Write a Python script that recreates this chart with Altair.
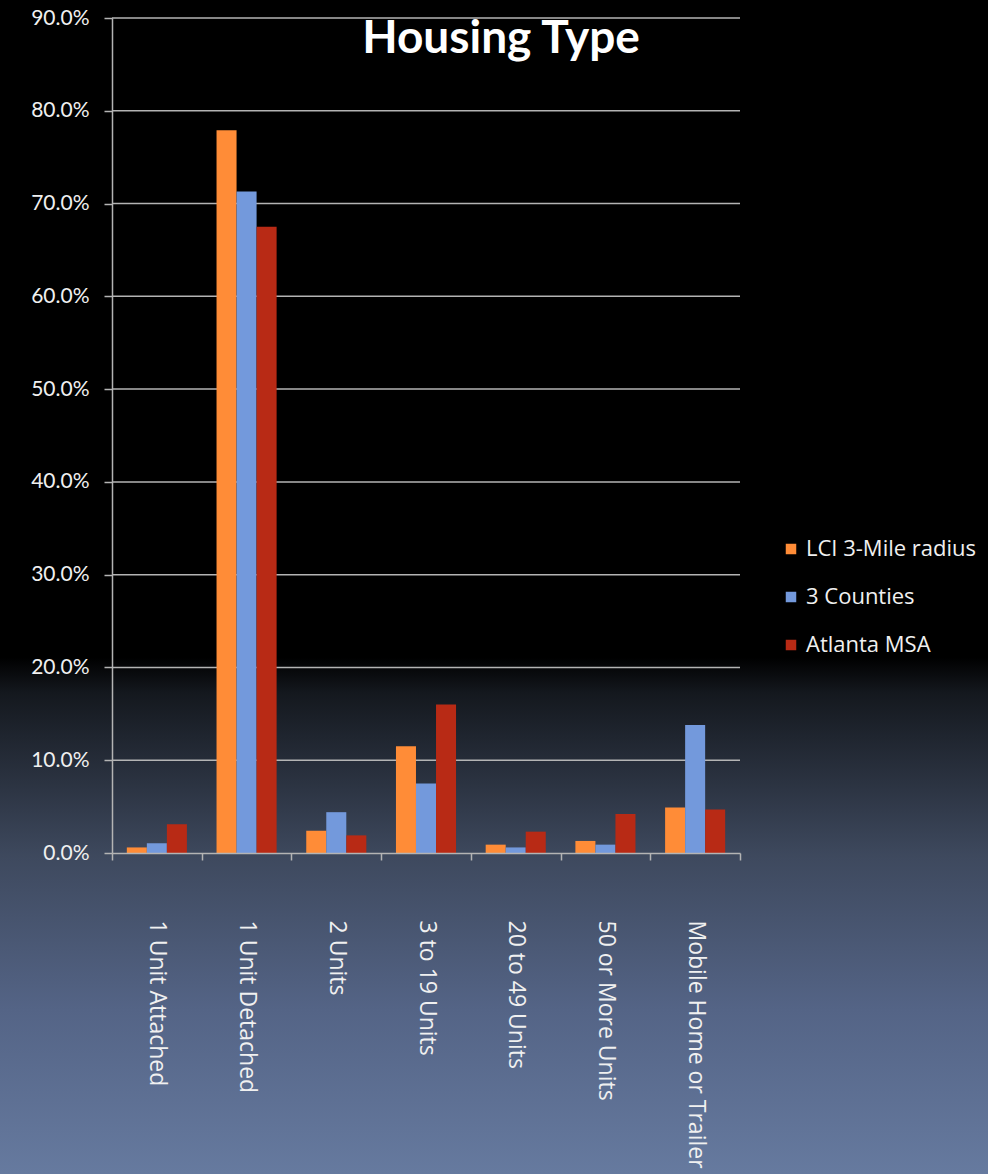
import altair as alt
import pandas as pd

categories = ["1 Unit Attached", "1 Unit Detached", "2 Units", "3 to 19 Units",
              "20 to 49 Units", "50 or More Units", "Mobile Home or Trailer"]
series = ["LCI 3-Mile radius", "3 Counties", "Atlanta MSA"]
lci = [0.6, 77.9, 2.4, 11.5, 0.9, 1.3, 4.9]
counties = [1.05, 71.3, 4.4, 7.5, 0.6, 0.9, 13.8]
msa = [3.1, 67.5, 1.9, 16.0, 2.3, 4.2, 4.7]
colors = ["#ff8c37", "#7399dc", "#b82a15"]
y_ticks = [0, 10, 20, 30, 40, 50, 60, 70, 80, 90]

rows = []
for s, vals in zip(series, [lci, counties, msa]):
    for c, v in zip(categories, vals):
        rows.append({"type": c, "series": s, "value": v / 100})
df = pd.DataFrame(rows)
grid_df = pd.DataFrame({"v": [t / 100 for t in y_ticks[1:]]})

W, H = 628, 835
PAD = {"left": 112, "top": 18, "right": 248, "bottom": 321}
FONT = "Lato"
FONT2 = "Open Sans"
LINE = "#b4b4b4"
TXT = "#f0f0f0"

y_axis = alt.Axis(values=[t / 100 for t in y_ticks], format=".1%", title=None, grid=False,
                  domainColor=LINE, domainWidth=1.5, tickColor=LINE, tickWidth=1.5, tickSize=8,
                  labelFontSize=21, labelColor=TXT, labelFont=FONT, labelPadding=15, zindex=1)
y_scale = alt.Scale(domain=[0, 0.9], nice=False, zero=True)

bg = alt.Chart(alt.Data(values=[{"a": 1}])).mark_rect(
    fill=alt.Gradient(gradient="linear", x1=0, x2=0, y1=0, y2=1, stops=[
        alt.GradientStop(offset=0, color="#000000"),
        alt.GradientStop(offset=0.56, color="#000000"),
        alt.GradientStop(offset=0.59, color="#14181e"),
        alt.GradientStop(offset=0.73, color="#3e495e"),
        alt.GradientStop(offset=0.86, color="#546486"),
        alt.GradientStop(offset=1.0, color="#667a9f"),
    ])
).encode(x=alt.value(-PAD["left"]), x2=alt.value(W + PAD["right"]),
         y=alt.value(-PAD["top"]), y2=alt.value(H + PAD["bottom"]))

grid = alt.Chart(grid_df).mark_rule(color=LINE, strokeWidth=1.5).encode(
    y=alt.Y("v:Q", scale=y_scale, axis=y_axis),
    x=alt.value(0), x2=alt.value(W))

bars = alt.Chart(df).mark_bar().encode(
    x=alt.X("type:N", sort=categories, scale=alt.Scale(paddingInner=0, paddingOuter=0),
            axis=alt.Axis(title=None, labelAngle=90, labelAlign="left", labelBaseline="middle",
                          tickBand="extent", grid=False, domainColor=LINE, domainWidth=1.5,
                          tickColor=LINE, tickWidth=1.5, tickSize=7, labelPadding=60,
                          labelFontSize=23, labelColor=TXT, labelFont=FONT2, labelLimit=400,
                          zindex=1)),
    xOffset=alt.XOffset("series:N", sort=series,
                        scale=alt.Scale(paddingOuter=0.74, paddingInner=0)),
    y=alt.Y("value:Q", scale=y_scale, axis=y_axis),
    color=alt.Color("series:N", sort=series, scale=alt.Scale(domain=series, range=colors),
                    legend=alt.Legend(orient="none", legendX=668, legendY=520, title=None,
                                      symbolType="square", symbolSize=110, symbolStrokeWidth=0,
                                      labelFontSize=22, labelColor=TXT, labelFont=FONT2,
                                      rowPadding=26, labelOffset=4, padding=0, labelLimit=300)),
)

chart = alt.layer(bg, grid, bars).properties(
    width=W, height=H, padding=PAD,
    autosize=alt.AutoSizeParams(type="none"),
    background="#000000",
    title=alt.Title("Housing Type", fontSize=46, font=FONT, fontWeight="bold", color="#ffffff",
                    anchor="middle", dx=75, dy=63, offset=0),
).configure_view(strokeWidth=0)

chart.save("out.html", embed_options={"renderer": "svg", "actions": False})
